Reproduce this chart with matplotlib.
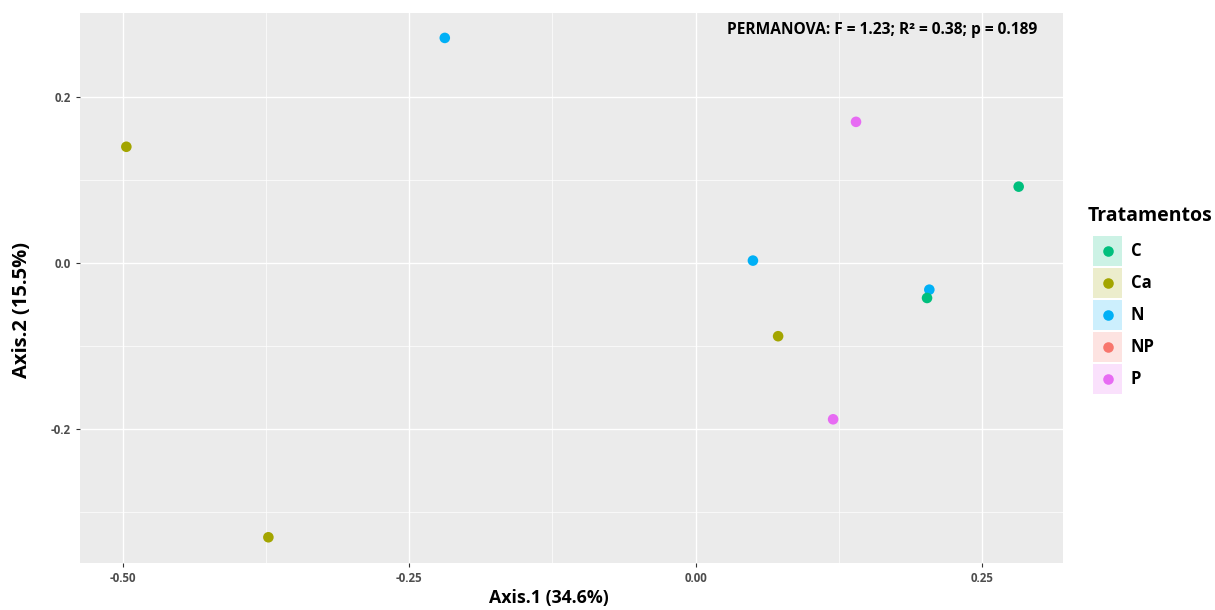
import matplotlib
matplotlib.use("Agg")
import matplotlib.pyplot as plt
from matplotlib.patches import Rectangle
from matplotlib.lines import Line2D

plt.rcParams['font.family'] = ['Open Sans', 'DejaVu Sans']

# Dados (PCoA)
grupos = ["C", "Ca", "N", "NP", "P"]
cores = ["#00BF7D", "#A3A500", "#00B0F6", "#F8766D", "#E76BF3"]
amostra_grupo = ["Ca", "Ca", "Ca", "N", "N", "N", "C", "C", "P", "P"]
axis1 = [-0.497, -0.373, 0.072, -0.219, 0.050, 0.204, 0.282, 0.202, 0.140, 0.120]
axis2 = [0.140, -0.330, -0.088, 0.271, 0.003, -0.032, 0.092, -0.042, 0.170, -0.188]

xticks = [-0.50, -0.25, 0.00, 0.25]
xtick_labels = ["-0.50", "-0.25", "0.00", "0.25"]
yticks = [-0.2, 0.0, 0.2]
ytick_labels = ["-0.2", "0.0", "0.2"]

fig = plt.figure(figsize=(12.15, 6.1), dpi=100)
ax = fig.add_axes([0.0658, 0.077, 0.8091, 0.9017])
ax.set_facecolor("#EBEBEB")

# grade
for x in [-0.375, -0.125, 0.125]:
    ax.axvline(x, color="white", lw=0.5, zorder=0)
for y in [-0.3, -0.1, 0.1]:
    ax.axhline(y, color="white", lw=0.5, zorder=0)
for x in xticks:
    ax.axvline(x, color="white", lw=1.0, zorder=0)
for y in yticks:
    ax.axhline(y, color="white", lw=1.0, zorder=0)

cor_de = dict(zip(grupos, cores))
ax.scatter(axis1, axis2, c=[cor_de[g] for g in amostra_grupo], s=58,
           edgecolors="none", zorder=3)

ax.set_xlim(-0.5375, 0.3207)
ax.set_ylim(-0.361, 0.301)
ax.set_xticks(xticks)
ax.set_xticklabels(xtick_labels)
ax.set_yticks(yticks)
ax.set_yticklabels(ytick_labels)
ax.tick_params(colors="#333333", length=3, width=0.8, labelsize=8.3,
               labelcolor="#4D4D4D")
for lab in ax.get_xticklabels() + ax.get_yticklabels():
    lab.set_fontweight("bold")
for s in ax.spines.values():
    s.set_visible(False)

ax.set_xlabel("Axis.1 (34.6%)", fontsize=12.8, fontweight="bold")
ax.set_ylabel("Axis.2 (15.5%)", fontsize=14.5, fontweight="bold")
ax.xaxis.set_label_coords(0.477, -0.048)
ax.yaxis.set_label_coords(-0.049, 0.46)

ax.text(0.2986, 0.281, "PERMANOVA: F = 1.23; R² = 0.38; p = 0.189",
        ha="right", va="center", fontsize=11.2, fontweight="bold")

# legenda manual
W, H = 1215, 610
fig.text(1088 / W, 1 - 216 / H, "Tratamentos", ha="left", va="center",
         fontsize=14, fontweight="bold")
for i, (g, c) in enumerate(zip(grupos, cores)):
    yc = 251 + i * 32
    fig.add_artist(Rectangle((1093 / W, 1 - (yc + 15) / H), 29 / W, 30 / H,
                             transform=fig.transFigure, facecolor=c,
                             alpha=0.2, edgecolor="none"))
    fig.add_artist(Line2D([1107.5 / W], [1 - yc / H], marker="o",
                          markersize=7.6, color=c, markeredgewidth=0,
                          transform=fig.transFigure))
    fig.text(1131 / W, 1 - yc / H, g, ha="left", va="center",
             fontsize=12, fontweight="bold")

fig.savefig("out.png", dpi=100)
